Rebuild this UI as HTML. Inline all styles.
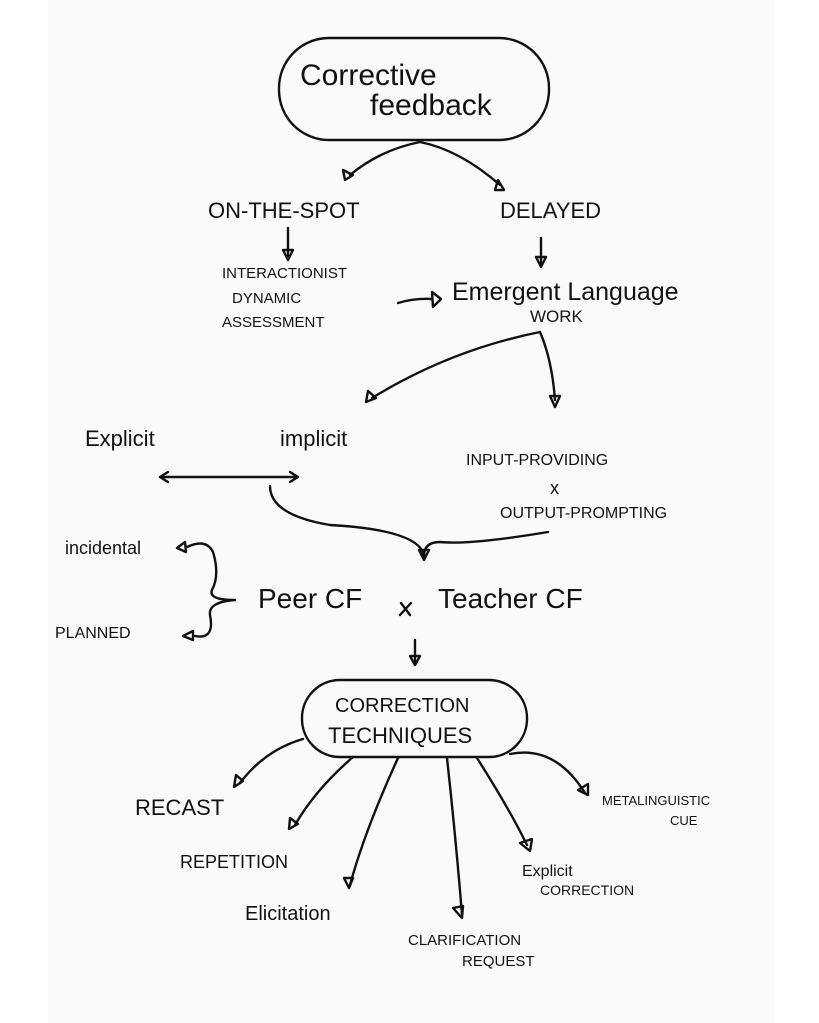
<!DOCTYPE html>
<html><head><meta charset="utf-8"><style>
html,body{margin:0;padding:0;background:#fff;}
svg{display:block}
text{font-family:"Liberation Sans",sans-serif;fill:#111;}
</style></head><body>
<svg width="819" height="1023" viewBox="0 0 819 1023" xmlns="http://www.w3.org/2000/svg">
<rect x="48" y="0" width="726" height="1023" fill="#fafafa"/>
<g fill="none" stroke="#111" stroke-width="2.4" stroke-linecap="round" stroke-linejoin="round">
<rect x="279" y="38" width="270" height="102" rx="50"/>
<rect x="302" y="680" width="225" height="77" rx="38"/>
<path d="M420 142 Q380 150 350 175"/><path d="M343 170 l2 10 l8 -5 z"/>
<path d="M420 142 Q460 150 500 185"/><path d="M498 180 l6 10 l-9 0 z"/>
<path d="M288 228 V258"/><path d="M283 250 l5 10 l5 -10 z"/>
<path d="M541 238 V266"/><path d="M536 257 l5 10 l5 -10 z"/>
<path d="M398 303 Q415 298 432 299"/><path d="M432 292 l9 7 l-8 8 z"/>
<path d="M540 332 Q450 350 372 398"/><path d="M368 391 l-2 11 l10 -4 z"/>
<path d="M540 332 Q552 360 555 400"/><path d="M550 396 l5 11 l5 -11 z"/>
<path d="M160 477 H298"/><path d="M168 472 l-8 5 l8 5"/><path d="M290 472 l8 5 l-8 5"/>
<path d="M270 486 Q270 515 330 525 Q420 530 424 556"/>
<path d="M548 532 Q470 545 440 542 Q424 542 424 556"/><path d="M419 550 l5 10 l5 -10 z"/>
<path d="M187 547 Q206 538 213 552 Q220 575 212 590 Q208 600 235 600 Q208 602 210 615 Q215 640 195 636"/>
<path d="M185 542 l-8 6 l9 4 z"/><path d="M193 631 l-10 5 l10 4 z"/>
<path d="M410 615 l-9 -12 M400 615 l11 -12" />
<path d="M415 640 V663"/><path d="M410 656 l5 9 l5 -9 z"/>
<path d="M303 739 Q265 750 240 783"/><path d="M236 775 l-2 12 l9 -6 z"/>
<path d="M353 757 Q315 790 295 825"/><path d="M290 818 l-1 11 l9 -5 z"/>
<path d="M398 758 Q365 830 350 885"/><path d="M344 878 l5 10 l4 -10 z"/>
<path d="M447 758 Q456 840 462 915"/><path d="M453 908 l9 10 l1 -12 z"/>
<path d="M477 758 Q510 810 527 845"/><path d="M520 843 l10 8 l2 -12 z"/>
<path d="M510 754 Q555 745 585 793"/><path d="M578 790 l10 5 l0 -11 z"/>
</g>
<g font-size="22">
<text x="300" y="85" font-size="30">Corrective</text>
<text x="370" y="115" font-size="30">feedback</text>
<text x="208" y="218">ON-THE-SPOT</text>
<text x="500" y="218">DELAYED</text>
<text x="222" y="278" font-size="15">INTERACTIONIST</text>
<text x="232" y="303" font-size="15">DYNAMIC</text>
<text x="222" y="327" font-size="15">ASSESSMENT</text>
<text x="452" y="300" font-size="25">Emergent Language</text>
<text x="530" y="322" font-size="17">WORK</text>
<text x="85" y="446">Explicit</text>
<text x="280" y="446">implicit</text>
<text x="466" y="465" font-size="16">INPUT-PROVIDING</text>
<text x="550" y="494" font-size="18">x</text>
<text x="500" y="518" font-size="16">OUTPUT-PROMPTING</text>
<text x="65" y="554" font-size="18">incidental</text>
<text x="55" y="638" font-size="16">PLANNED</text>
<text x="258" y="608" font-size="28">Peer CF</text>
<text x="438" y="608" font-size="28">Teacher CF</text>
<text x="335" y="712" font-size="20">CORRECTION</text>
<text x="328" y="743" font-size="22">TECHNIQUES</text>
<text x="135" y="815" font-size="22">RECAST</text>
<text x="180" y="868" font-size="18">REPETITION</text>
<text x="245" y="920" font-size="20">Elicitation</text>
<text x="408" y="945" font-size="15">CLARIFICATION</text>
<text x="462" y="966" font-size="15">REQUEST</text>
<text x="522" y="876" font-size="16">Explicit</text>
<text x="540" y="895" font-size="14">CORRECTION</text>
<text x="602" y="805" font-size="13">METALINGUISTIC</text>
<text x="670" y="825" font-size="13">CUE</text>
</g>
</svg>
</body></html>
